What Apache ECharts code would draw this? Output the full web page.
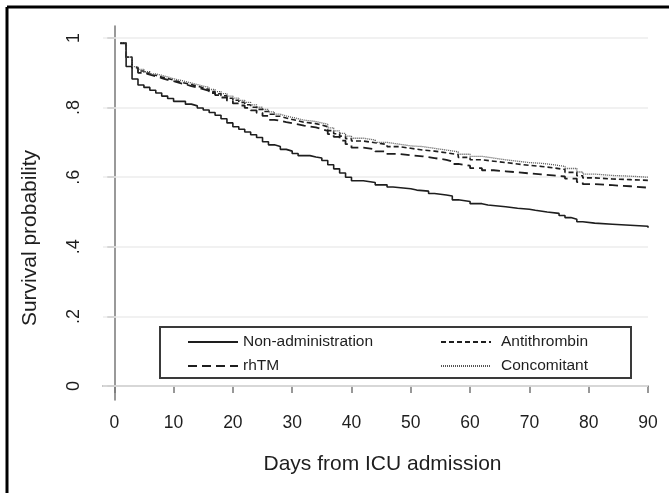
<!DOCTYPE html>
<html>
<head>
<meta charset="utf-8">
<script src="https://cdn.jsdelivr.net/npm/echarts@6/dist/echarts.min.js"></script>
<style>
  html, body { margin: 0; padding: 0; background: #fff; }
  #main { width: 669px; height: 493px; }
</style>
</head>
<body>
<div id="main"></div>
<script>
// Kaplan-Meier survival
var xTicks = [0, 10, 20, 30, 40, 50, 60, 70, 80, 90];
var yTicks = [0, 0.2, 0.4, 0.6, 0.8, 1];
var yTickLabels = ['0', '.2', '.4', '.6', '.8', '1'];

var nonAdminDays = [1, 2, 3, 4, 5, 6, 7, 8, 9, 10, 12, 13, 14, 15, 16, 17, 18, 19, 20, 21, 22, 23, 24, 25, 26, 27, 28, 29, 30, 31, 33, 34, 35, 36, 37, 38, 39, 40, 42, 44, 46, 47, 50, 51, 53, 54, 56, 57, 58, 60, 62, 63, 66, 68, 70, 71, 73, 75, 76, 77, 78, 79, 81, 84, 87, 90];
var nonAdminSurv = [0.985, 0.918, 0.882, 0.865, 0.858, 0.850, 0.842, 0.833, 0.826, 0.818, 0.810, 0.805, 0.799, 0.793, 0.786, 0.778, 0.768, 0.756, 0.745, 0.738, 0.730, 0.722, 0.714, 0.702, 0.693, 0.688, 0.680, 0.675, 0.668, 0.662, 0.658, 0.655, 0.648, 0.636, 0.624, 0.612, 0.600, 0.590, 0.585, 0.578, 0.572, 0.567, 0.563, 0.560, 0.553, 0.549, 0.546, 0.535, 0.530, 0.524, 0.520, 0.515, 0.511, 0.508, 0.505, 0.500, 0.496, 0.490, 0.484, 0.479, 0.472, 0.468, 0.465, 0.462, 0.459, 0.455];

var rhtmDays = [1, 2, 3, 4, 5, 6, 7, 8, 9, 10, 11, 12, 13, 14, 15, 16, 17, 18, 19, 20, 21, 22, 23, 24, 25, 26, 27, 28, 29, 30, 31, 32, 34, 35, 36, 37, 38, 39, 40, 42, 44, 46, 48, 50, 52, 54, 56, 57, 58, 60, 62, 64, 66, 68, 70, 72, 74, 76, 78, 79, 81, 84, 87, 90];
var rhtmSurv = [0.985, 0.945, 0.912, 0.900, 0.895, 0.890, 0.885, 0.880, 0.876, 0.871, 0.867, 0.862, 0.858, 0.853, 0.848, 0.842, 0.836, 0.829, 0.820, 0.812, 0.806, 0.799, 0.792, 0.785, 0.776, 0.765, 0.762, 0.758, 0.755, 0.752, 0.748, 0.743, 0.738, 0.733, 0.724, 0.716, 0.705, 0.695, 0.685, 0.680, 0.674, 0.667, 0.663, 0.660, 0.655, 0.650, 0.645, 0.638, 0.633, 0.626, 0.620, 0.617, 0.614, 0.611, 0.608, 0.605, 0.602, 0.596, 0.586, 0.580, 0.577, 0.574, 0.570, 0.566];

var atDays = [1, 2, 3, 4, 5, 6, 7, 8, 9, 10, 11, 12, 13, 14, 15, 16, 17, 18, 19, 20, 21, 22, 23, 24, 25, 26, 27, 28, 29, 30, 31, 32, 34, 35, 36, 37, 38, 39, 40, 42, 44, 46, 48, 50, 52, 54, 56, 58, 60, 62, 64, 66, 68, 70, 72, 74, 76, 78, 79, 81, 84, 87, 90];
var atSurv = [0.985, 0.945, 0.915, 0.905, 0.899, 0.893, 0.888, 0.884, 0.879, 0.874, 0.870, 0.866, 0.862, 0.857, 0.852, 0.846, 0.840, 0.834, 0.827, 0.821, 0.815, 0.808, 0.801, 0.795, 0.789, 0.781, 0.775, 0.770, 0.766, 0.762, 0.758, 0.754, 0.750, 0.745, 0.734, 0.725, 0.718, 0.711, 0.704, 0.699, 0.694, 0.688, 0.683, 0.678, 0.675, 0.670, 0.665, 0.657, 0.650, 0.646, 0.642, 0.638, 0.634, 0.631, 0.627, 0.622, 0.614, 0.604, 0.598, 0.595, 0.593, 0.591, 0.588];

var concDays = [1, 2, 3, 4, 5, 6, 7, 8, 9, 10, 11, 12, 13, 14, 15, 16, 17, 18, 19, 20, 21, 22, 23, 24, 25, 26, 27, 28, 29, 30, 31, 32, 34, 35, 36, 37, 38, 39, 40, 42, 44, 46, 48, 50, 52, 54, 56, 58, 60, 62, 64, 66, 68, 70, 72, 74, 76, 78, 79, 81, 84, 87, 90];
var concSurv = [0.987, 0.945, 0.918, 0.910, 0.903, 0.897, 0.893, 0.888, 0.883, 0.879, 0.875, 0.871, 0.866, 0.862, 0.858, 0.852, 0.846, 0.840, 0.833, 0.827, 0.821, 0.815, 0.808, 0.801, 0.795, 0.788, 0.781, 0.776, 0.772, 0.768, 0.764, 0.760, 0.756, 0.752, 0.742, 0.733, 0.726, 0.718, 0.712, 0.707, 0.700, 0.695, 0.690, 0.688, 0.683, 0.678, 0.673, 0.666, 0.660, 0.655, 0.650, 0.646, 0.642, 0.640, 0.636, 0.631, 0.625, 0.615, 0.609, 0.605, 0.603, 0.600, 0.598];

function pairs(xs, ys) {
	var out = [];
	for (var i = 0; i < xs.length; i++) out.push([xs[i], ys[i]]);
	return out;
}

var font = '"Liberation Sans", Arial, sans-serif';
var ink = '#1e1e1e';

var gridLines = [];
for (var i = 0; i < yTicks.length; i++) gridLines.push({ yAxis: yTicks[i] });

var legendBase = {
	orient: 'vertical',
	top: 329,
	itemWidth: 50,
	itemHeight: 14,
	itemGap: 8,
	itemStyle: { opacity: 0, borderWidth: 0 },
	textStyle: { fontSize: 15.5, color: ink }
};

var myChart = echarts.init(document.getElementById('main'));

var option = {
	animation: false,
	backgroundColor: '#fff',
	textStyle: { fontFamily: font },
	grid: { left: 103, right: 21, top: 26, bottom: 93 },
	xAxis: {
		type: 'value',
		min: -1.9,
		max: 90,
		name: 'Days from ICU admission',
		nameLocation: 'middle',
		nameGap: 54,
		nameTextStyle: { fontSize: 21, color: ink, fontFamily: font, padding: [0, 0, 0, 14] },
		axisLine: { lineStyle: { color: '#777', width: 1.5 } },
		axisTick: { length: 7, customValues: xTicks, lineStyle: { color: '#777', width: 1.5 } },
		axisLabel: { customValues: xTicks, fontSize: 17.5, color: ink, margin: 14 },
		splitLine: { show: false }
	},
	yAxis: {
		type: 'value',
		min: -0.0402,
		max: 1.0345,
		name: 'Survival probability',
		nameLocation: 'middle',
		nameGap: 62,
		nameTextStyle: { fontSize: 21, color: ink, fontFamily: font, padding: [0, 50, 0, 0] },
		axisLine: { show: true, lineStyle: { color: '#777', width: 1.5 } },
		axisTick: { show: true, length: 7, customValues: yTicks, lineStyle: { color: '#777', width: 1.5 } },
		axisLabel: {
			customValues: yTicks,
			rotate: 90,
			fontSize: 18,
			color: ink,
			margin: 20,
			formatter: function (v) {
				var k = yTicks.indexOf(Math.round(v * 10) / 10);
				return k >= 0 ? yTickLabels[k] : '';
			}
		},
		splitLine: { show: false }
	},
	legend: [
		Object.assign({}, legendBase, { left: 182, data: ['Non-administration', 'rhTM'] }),
		Object.assign({}, legendBase, { left: 435, textStyle: { fontSize: 15.5, color: ink, padding: [0, 0, 0, 5] }, data: ['Antithrombin', 'Concomitant'] })
	],
	graphic: [
		{ type: 'rect', shape: { x: 160, y: 327, width: 471, height: 51 }, style: { fill: 'rgba(0,0,0,0)', stroke: '#3a3a3a', lineWidth: 2 }, z: 5 },
		{ type: 'line', shape: { x1: 7, y1: 7, x2: 669, y2: 7 }, style: { stroke: '#000', lineWidth: 3 } },
		{ type: 'line', shape: { x1: 7, y1: 7, x2: 7, y2: 493 }, style: { stroke: '#000', lineWidth: 3 } }
	],
	series: [{
		name: 'Non-administration',
		type: 'line',
		step: 'end',
		symbol: 'none',
		color: ink,
		lineStyle: { color: ink, width: 1.6, type: 'solid' },
		data: pairs(nonAdminDays, nonAdminSurv),
		markLine: {
			silent: true,
			symbol: 'none',
			label: { show: false },
			lineStyle: { color: '#ececec', width: 1.5, type: 'solid' },
			data: gridLines,
			z: 1
		},
		z: 4
	}, {
		name: 'rhTM',
		type: 'line',
		step: 'end',
		symbol: 'none',
		color: ink,
		lineStyle: { color: ink, width: 1.8, type: [9, 5] },
		data: pairs(rhtmDays, rhtmSurv),
		z: 4
	}, {
		name: 'Antithrombin',
		type: 'line',
		step: 'end',
		symbol: 'none',
		color: ink,
		lineStyle: { color: ink, width: 1.6, type: [5, 3] },
		data: pairs(atDays, atSurv),
		z: 4
	}, {
		name: 'Concomitant',
		type: 'line',
		step: 'end',
		symbol: 'none',
		color: '#555',
		lineStyle: { color: '#555', width: 1.3, type: [1, 1] },
		data: pairs(concDays, concSurv),
		z: 4
	}]
};

myChart.setOption(option);
</script>
</body>
</html>
